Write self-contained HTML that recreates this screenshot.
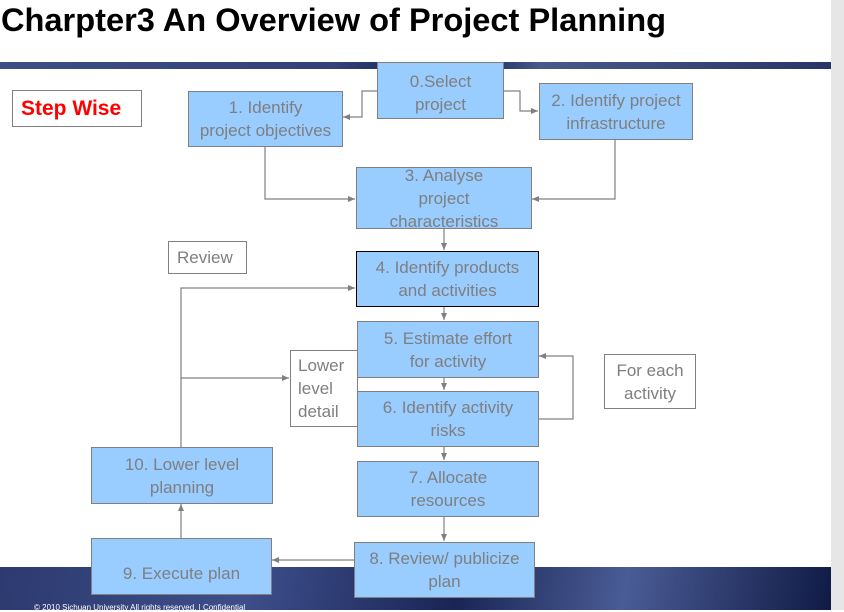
<!DOCTYPE html>
<html><head><meta charset="utf-8"><style>
body{margin:0;width:844px;height:610px;overflow:hidden;background:#fff;position:relative;font-family:"Liberation Sans",sans-serif}
.b{position:absolute;background:#99ccff;border:1px solid #808080;color:#7f7f7f;font-size:17px;text-align:center;line-height:23px;box-sizing:border-box;display:flex;align-items:center;justify-content:center}
.w{position:absolute;background:#fff;border:1px solid #808080;color:#7f7f7f;font-size:17px;box-sizing:border-box;line-height:23px}
</style></head><body>
<div style="position:absolute;left:0;top:62px;width:831px;height:7px;background:linear-gradient(90deg,#3d4d85,#34427a 40%,#0f1a4a 55%,#475a8a 65%,#2a3566)"></div>
<div style="position:absolute;left:0;top:567px;width:831px;height:43px;background:linear-gradient(100deg,#2d3a70,#3d4e8a 30%,#1a2555 55%,#4a5c95 75%,#101a45)"></div>
<div style="position:absolute;left:831px;top:0;width:13px;height:610px;background:#e6e6e6"></div>
<div style="position:absolute;left:34px;top:603px;color:#fff;font-size:8px">© 2010 Sichuan University All rights reserved. | Confidential</div>
<div style="position:absolute;left:1px;top:1px;font-size:32.6px;font-weight:bold;color:#000">Charpter3 An Overview of Project Planning</div>
<svg style="position:absolute;left:0;top:0" width="844" height="610">
<defs><marker id="a" markerWidth="8" markerHeight="8" refX="7" refY="4" orient="auto" markerUnits="userSpaceOnUse"><path d="M0,1 L7,4 L0,7z" fill="#808080"/></marker></defs>
<g stroke="#808080" stroke-width="1.2" fill="none" marker-end="url(#a)">
<polyline points="377,91 362,91 362,117 343,117"/>
<polyline points="503,91 520,91 520,111 538,111"/>
<polyline points="265,146 265,199 355,199"/>
<polyline points="615,139 615,199 532,199"/>
<line x1="444" y1="228" x2="444" y2="250"/>
<line x1="444" y1="306" x2="444" y2="320"/>
<line x1="444" y1="377" x2="444" y2="390"/>
<line x1="444" y1="446" x2="444" y2="460"/>
<line x1="444" y1="516" x2="444" y2="541"/>
<line x1="354" y1="560" x2="272" y2="560"/>
<line x1="181" y1="538" x2="181" y2="504"/>
<polyline points="181,447 181,288 355,288"/>
<line x1="181" y1="378" x2="289" y2="378"/>
<polyline points="538,419 573,419 573,356 539,356"/>
</g></svg>
<div class="w" style="left:12px;top:90px;width:130px;height:37px;color:#f00;font-weight:bold;font-size:21px;padding:6px 0 0 8px">Step Wise</div>
<div class="b" style="left:377px;top:62px;width:127px;height:57px;align-items:flex-start;padding-top:7px">0.Select<br>project</div>
<div class="b" style="left:188px;top:91px;width:155px;height:56px">1. Identify<br>project objectives</div>
<div class="b" style="left:539px;top:83px;width:154px;height:57px">2. Identify project<br>infrastructure</div>
<div class="b" style="left:356px;top:167px;width:176px;height:62px">3. Analyse<br>project<br>characteristics</div>
<div class="w" style="left:168px;top:241px;width:79px;height:33px;padding:4px 0 0 8px">Review</div>
<div class="b" style="left:356px;top:251px;width:183px;height:56px;border-color:#000">4. Identify products<br>and activities</div>
<div class="b" style="left:357px;top:321px;width:182px;height:57px">5. Estimate effort<br>for activity</div>
<div class="w" style="left:290px;top:350px;width:68px;height:77px;padding:3px 0 0 7px">Lower<br>level<br>detail</div>
<div class="w" style="left:604px;top:354px;width:92px;height:55px;text-align:center;padding-top:4px">For each<br>activity</div>
<div class="b" style="left:357px;top:391px;width:182px;height:56px">6. Identify activity<br>risks</div>
<div class="b" style="left:91px;top:447px;width:182px;height:57px">10. Lower level<br>planning</div>
<div class="b" style="left:357px;top:461px;width:182px;height:56px">7. Allocate<br>resources</div>
<div class="b" style="left:91px;top:538px;width:181px;height:57px;padding-top:14px">9. Execute plan</div>
<div class="b" style="left:354px;top:542px;width:181px;height:56px">8. Review/ publicize<br>plan</div>
</body></html>
